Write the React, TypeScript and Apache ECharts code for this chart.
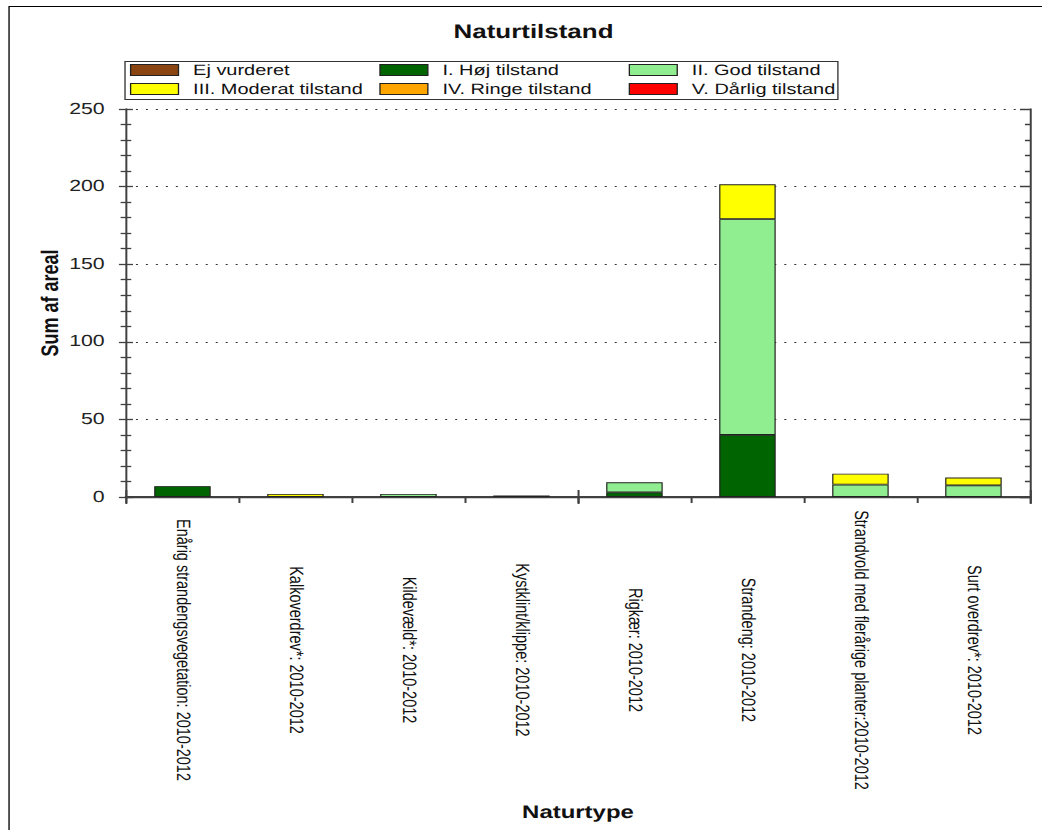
import React, { useEffect, useRef } from "react";
import * as echarts from "echarts";

// ---- data ----
const categories = [
  "Enårig strandengsvegetation: 2010-2012",
  "Kalkoverdrev*: 2010-2012",
  "Kildevæld*: 2010-2012",
  "Kystklint/klippe: 2010-2012",
  "Rigkær: 2010-2012",
  "Strandeng: 2010-2012",
  "Strandvold med flerårige planter:2010-2012",
  "Surt overdrev*: 2010-2012",
];
const seriesNames = [
  "Ej vurderet",
  "I. Høj tilstand",
  "II. God tilstand",
  "III. Moderat tilstand",
  "IV. Ringe tilstand",
  "V. Dårlig tilstand",
];
const ejVurderet = [0, 0, 0, 0, 0, 0, 0, 0];
const hojTilstand = [7, 0, 0, 1, 3, 40, 0, 0];
const godTilstand = [0, 0, 2, 0, 6.5, 139, 8, 7.5];
const moderatTilstand = [0, 2, 0, 0, 0, 22.5, 7, 5];
const ringeTilstand = [0, 0, 0, 0, 0, 0, 0, 0];
const darligTilstand = [0, 0, 0, 0, 0, 0, 0, 0];
const seriesValues = [ejVurderet, hojTilstand, godTilstand, moderatTilstand, ringeTilstand, darligTilstand];
const seriesColors = ["#8B4513", "#006400", "#90EE90", "#FFFF00", "#FFA500", "#FF0000"];
const yMin = 0;
const yMax = 250;
const yInterval = 50;

// ---- layout ----
const SX = 1.33; // horizontal stretch of the reference picture
const W = 784;
const H = 830;
const FONT = "'Liberation Sans', Arial, sans-serif";
const AXIS_COLOR = "#404040";

export default function App() {
  const ref = useRef<HTMLDivElement>(null);

  useEffect(() => {
    if (!ref.current) return;
    const chart = echarts.init(ref.current, null, { renderer: "svg", width: W, height: H });

    const legendCommon = {
      orient: "horizontal" as const,
      left: 97.7,
      padding: 0,
      itemWidth: 36,
      itemHeight: 11,
      itemGap: 10,
      icon: "rect",
      itemStyle: { borderColor: "#222", borderWidth: 1 },
      textStyle: {
        fontFamily: FONT,
        fontSize: 15,
        color: "#111",
        width: 130,
        lineHeight: 16,
        padding: [0, 0, 0, 6],
      },
      selectedMode: false,
    };

    const catAxisBase = {
      type: "category" as const,
      data: categories,
      splitLine: { show: false },
    };
    const valAxisBase = {
      type: "value" as const,
      min: yMin,
      max: yMax,
      interval: yInterval,
    };

    const option: any = {
      animation: false,
      title: {
        text: "Naturtilstand",
        left: 341,
        top: 22,
        padding: 0,
        textStyle: { fontFamily: FONT, fontWeight: "bold", fontSize: 19.5, color: "#111" },
      },
      graphic: [
        {
          type: "rect",
          shape: { x: 6.8, y: 6.5, width: 900, height: 900 },
          style: { fill: "none", stroke: "#000", lineWidth: 1 },
          silent: true,
        },
        {
          type: "rect",
          shape: { x: 94, y: 61.5, width: 536, height: 38 },
          style: { fill: "none", stroke: "#333", lineWidth: 1 },
          silent: true,
        },
      ],
      legend: [
        { ...legendCommon, top: 62, data: seriesNames.slice(0, 3) },
        { ...legendCommon, top: 81, data: seriesNames.slice(3, 6) },
      ],
      grid: {
        left: 94.7,
        right: 9.6,
        top: 109,
        bottom: 333,
        containLabel: false,
        outerBoundsMode: "none",
      },
      xAxis: [
        {
          ...catAxisBase,
          position: "bottom",
          axisLine: { show: true, lineStyle: { color: AXIS_COLOR, width: 2 } },
          axisTick: { show: true, inside: false, length: 6, lineStyle: { color: AXIS_COLOR, width: 1.5 } },
          axisLabel: {
            interval: 0,
            rotate: -90,
            align: "center",
            verticalAlign: "middle",
            margin: 153,
            width: 600,
            overflow: "none",
            hideOverlap: false,
            fontFamily: FONT,
            fontSize: 14.5,
            color: "#111",
          },
          name: "Naturtype",
          nameLocation: "middle",
          nameGap: 306,
          nameMoveOverlap: false,
          nameTextStyle: { fontFamily: FONT, fontWeight: "bold", fontSize: 18, color: "#111" },
        },
        {
          ...catAxisBase,
          position: "bottom",
          axisLine: { show: false },
          axisTick: { show: true, inside: true, length: 7, lineStyle: { color: AXIS_COLOR, width: 1.5 } },
          axisLabel: { show: false },
        },
        {
          ...catAxisBase,
          position: "top",
          axisLine: { show: true, lineStyle: { color: AXIS_COLOR, width: 1.3 } },
          axisTick: { show: true, inside: true, length: 7, lineStyle: { color: AXIS_COLOR, width: 1.5 } },
          axisLabel: { show: false },
        },
      ],
      yAxis: [
        {
          ...valAxisBase,
          position: "left",
          axisLine: { show: true, lineStyle: { color: AXIS_COLOR, width: 1.5 } },
          axisTick: { show: true, inside: false, length: 5.3, lineStyle: { color: AXIS_COLOR, width: 1.3 } },
          minorTick: { show: true, splitNumber: 5, length: 4, lineStyle: { color: AXIS_COLOR, width: 1.3 } },
          axisLabel: { margin: 16, fontFamily: FONT, fontSize: 16, color: "#222" },
          splitLine: { show: true, lineStyle: { color: "#333", width: 1, type: [1.5, 6] } },
          name: "Sum af areal",
          nameLocation: "middle",
          nameGap: 48,
          nameMoveOverlap: false,
          nameTextStyle: { fontFamily: FONT, fontWeight: "bold", fontSize: 18, color: "#111" },
        },
        {
          ...valAxisBase,
          position: "left",
          axisLine: { show: false },
          axisTick: { show: true, inside: true, length: 5.3, lineStyle: { color: AXIS_COLOR, width: 1.3 } },
          minorTick: { show: true, splitNumber: 5, length: 4, lineStyle: { color: AXIS_COLOR, width: 1.3 } },
          axisLabel: { show: false },
          splitLine: { show: false },
        },
        {
          ...valAxisBase,
          position: "right",
          axisLine: { show: true, lineStyle: { color: AXIS_COLOR, width: 1.5 } },
          axisTick: { show: true, inside: true, length: 7.5, lineStyle: { color: AXIS_COLOR, width: 1.3 } },
          minorTick: { show: true, splitNumber: 5, length: 3.8, lineStyle: { color: AXIS_COLOR, width: 1.3 } },
          axisLabel: { show: false },
          splitLine: { show: false },
        },
      ],
      series: seriesNames.map((name, i) => ({
        name,
        type: "bar",
        stack: "total",
        xAxisIndex: 0,
        yAxisIndex: 0,
        barWidth: "50%",
        itemStyle: { color: seriesColors[i], borderColor: "#222", borderWidth: 0.9 },
        data: seriesValues[i].map((v) => (v === 0 ? null : v)),
      })),
    };

    chart.setOption(option);
    return () => chart.dispose();
  }, []);

  return (
    <div
      ref={ref}
      style={{
        position: "absolute",
        left: 0,
        top: 0,
        width: W,
        height: H,
        transform: `scaleX(${SX})`,
        transformOrigin: "0 0",
        textRendering: "geometricPrecision",
      }}
    />
  );
}
